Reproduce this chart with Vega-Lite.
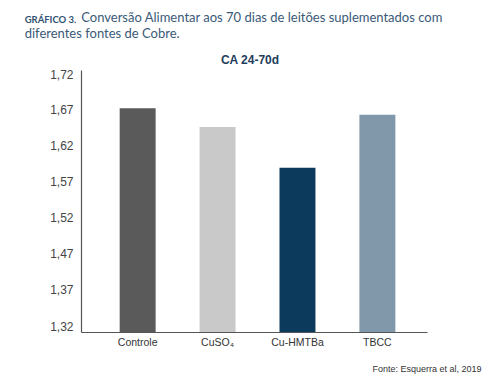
{
  "$schema": "https://vega.github.io/schema/vega-lite/v6.json",
  "padding": {"left": 24, "top": 11, "right": 5, "bottom": 5},
  "background": "white",
  "config": {"view": {"stroke": null}, "font": "Liberation Sans"},
  "title": {
    "text": "GRÁFICO 3.",
    "subtitle": ["\u200b\u00a0\u00a0\u00a0\u00a0\u00a0\u00a0\u00a0\u00a0\u00a0\u00a0\u00a0\u00a0\u00a0\u00a0\u00a0\u00a0\u00a0Conversão Alimentar aos 70 dias de leitões suplementados com", "diferentes fontes de Cobre."],
    "anchor": "start",
    "dx": -25,
    "font": "Lato",
    "fontSize": 9.5,
    "fontWeight": "bold",
    "color": "#2f5273",
    "subtitleFont": "Lato",
    "subtitleFontSize": 13,
    "subtitleColor": "#3a5a78",
    "subtitlePadding": -13,
    "subtitleLineHeight": 16,
    "offset": 10
  },
  "vconcat": [
    {
      "width": 346,
      "height": 262,
      "title": {"text": "CA 24-70d", "font": "Liberation Sans", "fontSize": 12, "fontWeight": "bold", "color": "#1f3d5c", "anchor": "middle", "dx": -4, "offset": 1},
      "data": {"values": [
        {"grupo": "Controle", "ca": 1.672},
        {"grupo": "CuSO₄", "ca": 1.646},
        {"grupo": "Cu-HMTBa", "ca": 1.589},
        {"grupo": "TBCC", "ca": 1.663}
      ]},
      "mark": {"type": "bar"},
      "encoding": {
        "x": {
          "field": "grupo", "type": "nominal", "sort": null,
          "scale": {"paddingInner": 0.55, "paddingOuter": 0.44, "align": 0.55},
          "axis": {
            "labelAngle": 0, "ticks": false, "labelPadding": 5, "labelFontSize": 10.5, "labelColor": "#333",
            "domainColor": "#555", "domainWidth": 1.2,
            "title": "Fonte: Esquerra et al, 2019", "titleFontSize": 9, "titleFontWeight": "normal", "titleColor": "#333",
            "titleAnchor": "end", "titleAlign": "right", "titleX": 400, "titleY": 39, "titleBaseline": "alphabetic"
          }
        },
        "y": {
          "field": "ca", "type": "quantitative",
          "scale": {"domain": [1.31, 1.32, 1.37, 1.47, 1.72, 1.73], "range": [262, 256, 219, 183, 4, 0], "zero": false, "nice": false},
          "axis": {
            "values": [1.32, 1.37, 1.47, 1.52, 1.57, 1.62, 1.67, 1.72],
            "labelExpr": "replace(format(datum.value, '.2f'), '.', ',')",
            "ticks": false, "grid": false, "labelPadding": 8, "labelFontSize": 12, "labelColor": "#444",
            "domainColor": "#555", "domainWidth": 1.2, "title": null
          }
        },
        "y2": {"datum": 1.31},
        "color": {
          "field": "grupo", "type": "nominal", "sort": null,
          "scale": {"domain": ["Controle", "CuSO₄", "Cu-HMTBa", "TBCC"], "range": ["#5a5a5a", "#c9c9c9", "#0b3a5c", "#8198aa"]},
          "legend": null
        }
      }
    }
  ]
}
